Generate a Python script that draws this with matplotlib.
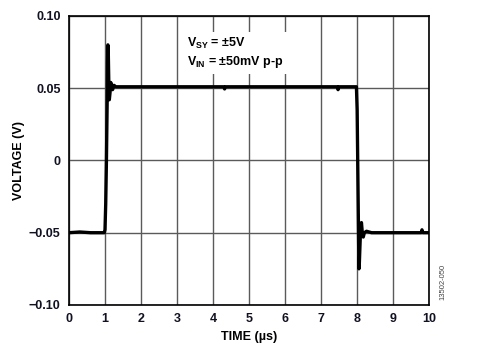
import matplotlib
matplotlib.use("Agg")
import matplotlib.pyplot as plt

# Time (µs) and voltage (V)
time_us = [0.00, 0.30, 0.60, 0.98, 1.00, 1.02, 1.04, 1.06, 1.07, 1.08, 1.09, 1.10,
           1.11, 1.12, 1.14, 1.16, 1.18, 1.21, 1.25, 1.30, 2.00, 3.00, 4.30, 4.32,
           4.34, 5.50, 6.50, 7.45, 7.47, 7.49, 7.98, 8.00, 8.02, 8.04, 8.05, 8.06,
           8.08, 8.10, 8.12, 8.14, 8.17, 8.20, 8.26, 8.40, 9.00, 9.78, 9.80, 9.82,
           10.00]
voltage_v = [-0.050, -0.0495, -0.050, -0.050, -0.048, -0.030, 0.000, 0.040, 0.068, 0.080,
             0.077, 0.062, 0.048, 0.042, 0.047, 0.054, 0.052, 0.049, 0.052, 0.051, 0.051,
             0.051, 0.051, 0.0495, 0.051, 0.051, 0.051, 0.051, 0.049, 0.051, 0.051, 0.035,
             -0.010, -0.055, -0.075, -0.072, -0.058, -0.045, -0.043, -0.049, -0.053, -0.050,
             -0.049, -0.050, -0.050, -0.050, -0.048, -0.050, -0.050]

xticks = [0, 1, 2, 3, 4, 5, 6, 7, 8, 9, 10]
yticks = [-0.10, -0.05, 0, 0.05, 0.10]
ytick_labels = ["\u22120.10", "\u22120.05", "0", "0.05", "0.10"]

plt.rcParams['font.family'] = ['Liberation Sans', 'DejaVu Sans']
plt.rcParams['mathtext.fontset'] = 'custom'
plt.rcParams['mathtext.rm'] = 'Liberation Sans:bold'
plt.rcParams['mathtext.bf'] = 'Liberation Sans:bold'
plt.rcParams['mathtext.it'] = 'Liberation Sans:bold'

fig = plt.figure(figsize=(4.79, 3.55), dpi=100)
ax = fig.add_axes([0.144, 0.141, 0.752, 0.814])

ax.plot(time_us, voltage_v, color='black', linewidth=2.4, zorder=3,
        solid_joinstyle='round')

ax.set_xlim(0, 10)
ax.set_ylim(-0.10, 0.10)
ax.set_xticks(xticks)
ax.set_yticks(yticks)
ax.set_yticklabels(ytick_labels)
ax.grid(True, color='#5a5a5a', linewidth=1.0, zorder=1)
ax.tick_params(length=0, pad=6, labelsize=9)
for lab in ax.get_xticklabels() + ax.get_yticklabels():
    lab.set_fontweight('bold')
    lab.set_color('#111122')
for sp in ax.spines.values():
    sp.set_color('black')
    sp.set_linewidth(1.2)

ax.set_xlabel("TIME (µs)", fontsize=9, fontweight='bold', labelpad=4)
ax.set_ylabel("VOLTAGE (V)", fontsize=9, fontweight='bold', labelpad=3)

ax.text(3.27, 0.0745, "$\\mathrm{V_{SY}}$ = ±5V\n$\\mathrm{V_{IN}}$ = ±50mV p-p",
        fontsize=9, fontweight='bold', va='center', ha='left', linespacing=1.3,
        bbox=dict(facecolor='white', edgecolor='none', pad=3), zorder=4)

fig.text(0.925, 0.205, "13502-050", rotation=90, fontsize=5.5, color='#444444',
         ha='center', va='center')

fig.savefig("out.png", dpi=100)
